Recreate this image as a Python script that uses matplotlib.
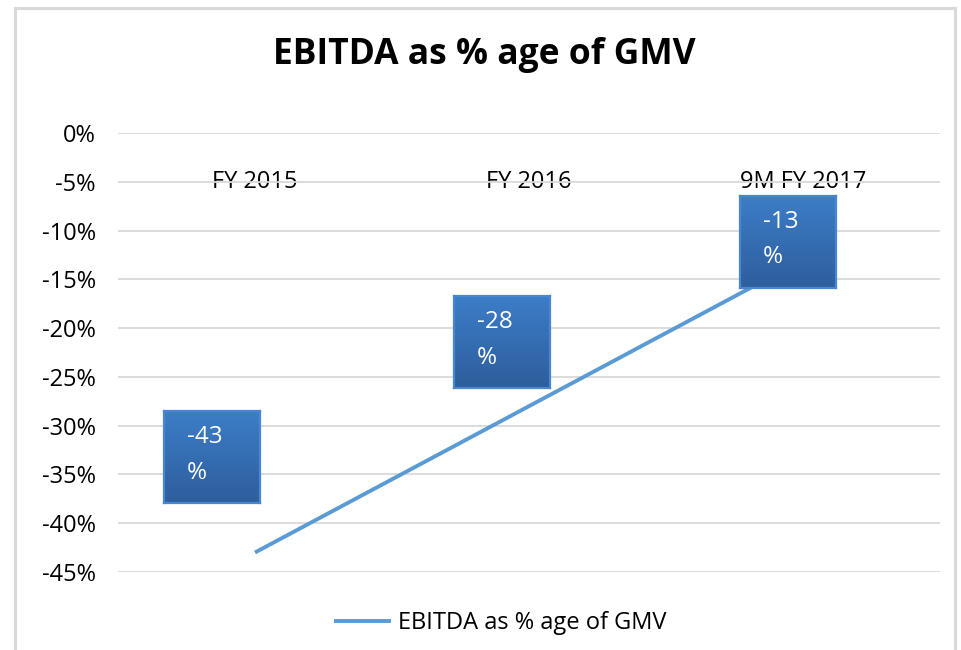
import numpy as np
import matplotlib
matplotlib.use("Agg")
import matplotlib.pyplot as plt
from matplotlib.colors import LinearSegmentedColormap

matplotlib.rcParams['font.family'] = ['Open Sans', 'DejaVu Sans']

# data
categories = ['FY 2015', 'FY 2016', '9M FY 2017']
ebitda_pct = [-43, -28, -13]
yticks = [0, -5, -10, -15, -20, -25, -30, -35, -40, -45]
ytick_labels = ['0%', '-5%', '-10%', '-15%', '-20%', '-25%', '-30%', '-35%', '-40%', '-45%']

W, H = 961, 650
fig = plt.figure(figsize=(W / 100, H / 100), dpi=100)

# outer chart frame
fig.add_artist(plt.Rectangle((15 / W, -0.02), 940 / W, 1 - 8 / H + 0.02,
                             transform=fig.transFigure, fill=False,
                             ec='#D9D9D9', lw=2.2))

ax = fig.add_axes([118 / W, 1 - 572 / H, 822 / W, 439 / H])
x = np.arange(len(categories))

line, = ax.plot(x, ebitda_pct, color='#5B9BD5', lw=2.8, solid_capstyle='butt',
                label='EBITDA as % age of GMV', zorder=3)

ax.set_xlim(-0.5, len(categories) - 0.5)
ax.set_ylim(-45, 0)
ax.set_yticks(yticks)
ax.set_yticklabels(ytick_labels, fontsize=17)
ax.grid(axis='y', color='#D9D9D9', lw=1.3, zorder=0)
ax.set_axisbelow(True)
for s in ax.spines.values():
    s.set_visible(False)

ax.set_xticks(x)
ax.set_xticklabels(categories, fontsize=17)
ax.tick_params(axis='x', length=0, top=False, bottom=False,
               labeltop=True, labelbottom=False, pad=-35.5)
for t in ax.get_xticklabels():
    t.set_va('center')
ax.tick_params(axis='y', length=0, pad=16)

# data label boxes (gradient blue), offsets in pixels from the point
offsets = [(-43, 95), (-27, 64), (-15, 18)]
box_w, box_h = 96, 92
cmap = LinearSegmentedColormap.from_list('lbl', ['#2E5E9C', '#3C7DC8'])
grad = np.linspace(0, 1, 64).reshape(-1, 1)
for xi, v, (dx, dy) in zip(x, ebitda_pct, offsets):
    px, py = ax.transData.transform((xi, v))
    cx, cy = px + dx, py + dy
    bax = fig.add_axes([(cx - box_w / 2) / W, (cy - box_h / 2) / H, box_w / W, box_h / H])
    bax.imshow(grad, cmap=cmap, origin='lower', extent=[0, 1, 0, 1], aspect='auto')
    bax.set_xticks([])
    bax.set_yticks([])
    for s in bax.spines.values():
        s.set_color('#4A86CF')
        s.set_linewidth(1.6)
    bax.text(0.24, 0.72, str(v), color='white', fontsize=17.5, ha='left', va='center',
             transform=bax.transAxes)
    bax.text(0.24, 0.33, '%', color='white', fontsize=17.5, ha='left', va='center',
             transform=bax.transAxes)

fig.text(484 / W, 1 - 55 / H, 'EBITDA as % age of GMV', ha='center', va='center',
         fontsize=25.5, fontweight='bold')

fig.legend(handles=[line], loc='center', bbox_to_anchor=(500 / W, 1 - 623 / H),
           frameon=False, fontsize=17, handlelength=2.4, handletextpad=0.3)

fig.savefig('out.png', dpi=100)
